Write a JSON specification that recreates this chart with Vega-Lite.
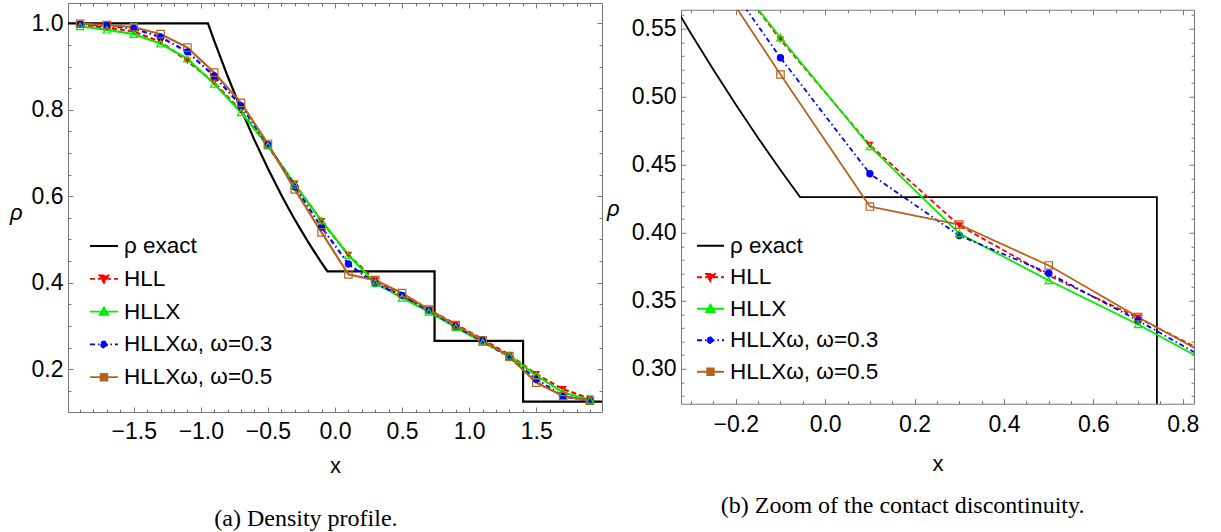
{
  "$schema": "https://vega.github.io/schema/vega-lite/v6.json",
  "background": "white",
  "padding": {"left": 9, "top": 2, "right": 5, "bottom": 0},
  "datasets": {
    "exact": [
      {"s": "ρ exact", "i": 0, "x": -2.0, "r": 1.0},
      {"s": "ρ exact", "i": 1, "x": -0.947, "r": 1.0},
      {"s": "ρ exact", "i": 2, "x": -0.9, "r": 0.9596},
      {"s": "ρ exact", "i": 3, "x": -0.8, "r": 0.8775},
      {"s": "ρ exact", "i": 4, "x": -0.7, "r": 0.801},
      {"s": "ρ exact", "i": 5, "x": -0.6, "r": 0.7299},
      {"s": "ρ exact", "i": 6, "x": -0.5, "r": 0.664},
      {"s": "ρ exact", "i": 7, "x": -0.4, "r": 0.603},
      {"s": "ρ exact", "i": 8, "x": -0.35, "r": 0.5741},
      {"s": "ρ exact", "i": 9, "x": -0.3, "r": 0.5464},
      {"s": "ρ exact", "i": 10, "x": -0.25, "r": 0.5199},
      {"s": "ρ exact", "i": 11, "x": -0.2, "r": 0.4943},
      {"s": "ρ exact", "i": 12, "x": -0.15, "r": 0.4697},
      {"s": "ρ exact", "i": 13, "x": -0.1, "r": 0.4461},
      {"s": "ρ exact", "i": 14, "x": -0.0562, "r": 0.4263},
      {"s": "ρ exact", "i": 15, "x": 0.742, "r": 0.4263},
      {"s": "ρ exact", "i": 16, "x": 0.742, "r": 0.2656},
      {"s": "ρ exact", "i": 17, "x": 1.4018, "r": 0.2656},
      {"s": "ρ exact", "i": 18, "x": 1.4018, "r": 0.125},
      {"s": "ρ exact", "i": 19, "x": 2.0, "r": 0.125}
    ],
    "num": [
      {"s": "HLL", "x": -1.9, "r": 0.995}, {"s": "HLL", "x": -1.7, "r": 0.99}, {"s": "HLL", "x": -1.5, "r": 0.981}, {"s": "HLL", "x": -1.3, "r": 0.957}, {"s": "HLL", "x": -1.1, "r": 0.913},
      {"s": "HLL", "x": -0.9, "r": 0.863}, {"s": "HLL", "x": -0.7, "r": 0.797}, {"s": "HLL", "x": -0.5, "r": 0.715}, {"s": "HLL", "x": -0.3, "r": 0.629}, {"s": "HLL", "x": -0.1, "r": 0.542},
      {"s": "HLL", "x": 0.1, "r": 0.4645}, {"s": "HLL", "x": 0.3, "r": 0.4054}, {"s": "HLL", "x": 0.5, "r": 0.3686}, {"s": "HLL", "x": 0.7, "r": 0.3375}, {"s": "HLL", "x": 0.9, "r": 0.304},
      {"s": "HLL", "x": 1.1, "r": 0.269}, {"s": "HLL", "x": 1.3, "r": 0.233}, {"s": "HLL", "x": 1.5, "r": 0.1884}, {"s": "HLL", "x": 1.7, "r": 0.1538}, {"s": "HLL", "x": 1.9, "r": 0.132},
      {"s": "HLLX", "x": -1.9, "r": 0.993}, {"s": "HLLX", "x": -1.7, "r": 0.985}, {"s": "HLLX", "x": -1.5, "r": 0.975}, {"s": "HLLX", "x": -1.3, "r": 0.953}, {"s": "HLLX", "x": -1.1, "r": 0.918},
      {"s": "HLLX", "x": -0.9, "r": 0.86}, {"s": "HLLX", "x": -0.7, "r": 0.794}, {"s": "HLLX", "x": -0.5, "r": 0.717}, {"s": "HLLX", "x": -0.3, "r": 0.627}, {"s": "HLLX", "x": -0.1, "r": 0.5435},
      {"s": "HLLX", "x": 0.1, "r": 0.4635}, {"s": "HLLX", "x": 0.3, "r": 0.3995}, {"s": "HLLX", "x": 0.5, "r": 0.365}, {"s": "HLLX", "x": 0.7, "r": 0.3326}, {"s": "HLLX", "x": 0.9, "r": 0.297},
      {"s": "HLLX", "x": 1.1, "r": 0.2625}, {"s": "HLLX", "x": 1.3, "r": 0.231}, {"s": "HLLX", "x": 1.5, "r": 0.1855}, {"s": "HLLX", "x": 1.7, "r": 0.146}, {"s": "HLLX", "x": 1.9, "r": 0.129},
      {"s": "HLLXω, ω=0.3", "x": -1.9, "r": 0.998}, {"s": "HLLXω, ω=0.3", "x": -1.7, "r": 0.994}, {"s": "HLLXω, ω=0.3", "x": -1.5, "r": 0.988}, {"s": "HLLXω, ω=0.3", "x": -1.3, "r": 0.968}, {"s": "HLLXω, ω=0.3", "x": -1.1, "r": 0.934},
      {"s": "HLLXω, ω=0.3", "x": -0.9, "r": 0.878}, {"s": "HLLXω, ω=0.3", "x": -0.7, "r": 0.809}, {"s": "HLLXω, ω=0.3", "x": -0.5, "r": 0.719}, {"s": "HLLXω, ω=0.3", "x": -0.3, "r": 0.622}, {"s": "HLLXω, ω=0.3", "x": -0.1, "r": 0.5287},
      {"s": "HLLXω, ω=0.3", "x": 0.1, "r": 0.4434}, {"s": "HLLXω, ω=0.3", "x": 0.3, "r": 0.398}, {"s": "HLLXω, ω=0.3", "x": 0.5, "r": 0.3703}, {"s": "HLLXω, ω=0.3", "x": 0.7, "r": 0.3355}, {"s": "HLLXω, ω=0.3", "x": 0.9, "r": 0.2985},
      {"s": "HLLXω, ω=0.3", "x": 1.1, "r": 0.2654}, {"s": "HLLXω, ω=0.3", "x": 1.3, "r": 0.227}, {"s": "HLLXω, ω=0.3", "x": 1.5, "r": 0.177}, {"s": "HLLXω, ω=0.3", "x": 1.7, "r": 0.137}, {"s": "HLLXω, ω=0.3", "x": 1.9, "r": 0.127},
      {"s": "HLLXω, ω=0.5", "x": -1.9, "r": 0.999}, {"s": "HLLXω, ω=0.5", "x": -1.7, "r": 0.996}, {"s": "HLLXω, ω=0.5", "x": -1.5, "r": 0.991}, {"s": "HLLXω, ω=0.5", "x": -1.3, "r": 0.975}, {"s": "HLLXω, ω=0.5", "x": -1.1, "r": 0.944},
      {"s": "HLLXω, ω=0.5", "x": -0.9, "r": 0.886}, {"s": "HLLXω, ω=0.5", "x": -0.7, "r": 0.816}, {"s": "HLLXω, ω=0.5", "x": -0.5, "r": 0.721}, {"s": "HLLXω, ω=0.5", "x": -0.3, "r": 0.616}, {"s": "HLLXω, ω=0.5", "x": -0.1, "r": 0.5164},
      {"s": "HLLXω, ω=0.5", "x": 0.1, "r": 0.4193}, {"s": "HLLXω, ω=0.5", "x": 0.3, "r": 0.406}, {"s": "HLLXω, ω=0.5", "x": 0.5, "r": 0.376}, {"s": "HLLXω, ω=0.5", "x": 0.7, "r": 0.338}, {"s": "HLLXω, ω=0.5", "x": 0.9, "r": 0.302},
      {"s": "HLLXω, ω=0.5", "x": 1.1, "r": 0.267}, {"s": "HLLXω, ω=0.5", "x": 1.3, "r": 0.229}, {"s": "HLLXω, ω=0.5", "x": 1.5, "r": 0.169}, {"s": "HLLXω, ω=0.5", "x": 1.7, "r": 0.138}, {"s": "HLLXω, ω=0.5", "x": 1.9, "r": 0.127}
    ]
  },
  "spacing": 3,
  "center": true,
  "hconcat": [
    {
      "width": 534,
      "height": 409,
      "title": {"text": "(a) Density profile.", "orient": "bottom", "anchor": "middle", "frame": "bounds", "font": "Liberation Serif", "fontSize": 24, "fontWeight": "normal", "color": "black", "offset": 31},
      "layer": [
        {
          "data": {"name": "exact"},
          "mark": {"type": "line", "clip": true, "strokeWidth": 2.2},
          "encoding": {
            "x": {"field": "x", "type": "quantitative", "scale": {"domain": [-1.99, 1.99], "nice": false, "zero": false},
                  "axis": {"orient": "bottom", "values": [-1.5, -1, -0.5, 0, 0.5, 1, 1.5], "format": ".1f", "tickSize": -5, "labelPadding": 13, "title": "x", "titlePadding": 12}},
            "y": {"field": "r", "type": "quantitative", "scale": {"domain": [0.101, 1.047], "nice": false, "zero": false},
                  "axis": {"orient": "left", "values": [0.2, 0.4, 0.6, 0.8, 1.0], "format": ".1f", "tickSize": -5, "labelPadding": 10, "title": "ρ", "titleAngle": 0, "titleFontStyle": "italic", "titleAlign": "right", "titleBaseline": "middle", "titleX": -46, "titleY": 209}},
            "color": {"field": "s", "type": "nominal",
                      "scale": {"domain": ["ρ exact", "HLL", "HLLX", "HLLXω, ω=0.3", "HLLXω, ω=0.5"], "range": ["#000000", "#ff0000", "#00ee00", "#0000ff", "#b5641e"]},
                      "legend": {
                        "orient": "none", "legendX": 21, "legendY": 228, "title": null, "padding": 0,
                        "symbolSize": 784, "symbolStrokeWidth": 1.8, "labelFont": "Liberation Sans", "labelFontSize": 22.5, "labelColor": "black",
                        "labelOffset": 5, "rowPadding": 5.8, "labelLimit": 0,
                        "encode": {"symbols": {"update": {
                          "shape": {"signal": "datum.value === 'HLL' ? 'M-1,0L1,0M-0.32,-0.24L0.32,-0.24L0,0.3Z' : datum.value === 'HLLX' ? 'M-1,0L1,0M-0.32,0.24L0.32,0.24L0,-0.3Z' : datum.value === 'HLLXω, ω=0.3' ? 'M-1,0L1,0M-0.22,0A0.22,0.22,0,1,0,0.22,0A0.22,0.22,0,1,0,-0.22,0Z' : datum.value === 'HLLXω, ω=0.5' ? 'M-1,0L1,0M-0.24,-0.24L0.24,-0.24L0.24,0.24L-0.24,0.24Z' : 'M-1,0L1,0'"},
                          "fill": {"signal": "datum.value === 'HLL' ? '#ff0000' : datum.value === 'HLLXω, ω=0.3' ? '#0000ff' : datum.value === 'ρ exact' ? 'transparent' : 'white'"},
                          "strokeDash": {"signal": "datum.value === 'HLL' ? [5,3] : datum.value === 'HLLXω, ω=0.3' ? [5,3,1.5,3] : [1,0]"},
                          "opacity": {"value": 1}
                        }}}
                      }},
            "order": {"field": "i", "type": "quantitative"}
          }
        },
        {
          "data": {"name": "num"},
          "mark": {"type": "line", "clip": true, "strokeWidth": 2.2},
          "encoding": {
            "x": {"field": "x", "type": "quantitative", "scale": {"domain": [-1.99, 1.99], "nice": false, "zero": false},
                  "axis": {"orient": "top", "values": [-1.5, -1, -0.5, 0, 0.5, 1, 1.5], "labels": false, "tickSize": -5, "title": null}},
            "y": {"field": "r", "type": "quantitative", "scale": {"domain": [0.101, 1.047], "nice": false, "zero": false},
                  "axis": {"orient": "right", "values": [0.2, 0.4, 0.6, 0.8, 1.0], "labels": false, "tickSize": -5, "title": null}},
            "color": {"field": "s", "type": "nominal",
                      "scale": {"domain": ["ρ exact", "HLL", "HLLX", "HLLXω, ω=0.3", "HLLXω, ω=0.5"], "range": ["#000000", "#ff0000", "#00ee00", "#0000ff", "#b5641e"]}, "legend": null},
            "strokeDash": {"field": "s", "type": "nominal",
                      "scale": {"domain": ["HLL", "HLLX", "HLLXω, ω=0.3", "HLLXω, ω=0.5"], "range": [[5, 3], [1, 0], [5, 3, 1.5, 3], [1, 0]]}, "legend": null}
          }
        },
        {
          "data": {"name": "num"},
          "transform": [{"filter": "datum.s === 'HLL' || datum.s === 'HLLXω, ω=0.3'"}],
          "mark": {"type": "point", "filled": true, "size": 55, "opacity": 1, "clip": true},
          "encoding": {
            "x": {"field": "x", "type": "quantitative", "scale": {"domain": [-1.99, 1.99], "nice": false, "zero": false},
                  "axis": {"orient": "bottom", "values": [-1.9, -1.8, -1.7, -1.6, -1.4, -1.3, -1.2, -1.1, -0.9, -0.8, -0.7, -0.6, -0.4, -0.3, -0.2, -0.1, 0.1, 0.2, 0.3, 0.4, 0.6, 0.7, 0.8, 0.9, 1.1, 1.2, 1.3, 1.4, 1.6, 1.7, 1.8, 1.9], "labels": false, "domain": false, "tickSize": -3, "title": null}},
            "y": {"field": "r", "type": "quantitative", "scale": {"domain": [0.101, 1.047], "nice": false, "zero": false},
                  "axis": {"orient": "left", "values": [0.15, 0.25, 0.3, 0.35, 0.45, 0.5, 0.55, 0.65, 0.7, 0.75, 0.85, 0.9, 0.95], "labels": false, "domain": false, "tickSize": -3, "title": null}},
            "color": {"field": "s", "type": "nominal",
                      "scale": {"domain": ["ρ exact", "HLL", "HLLX", "HLLXω, ω=0.3", "HLLXω, ω=0.5"], "range": ["#000000", "#ff0000", "#00ee00", "#0000ff", "#b5641e"]}, "legend": null},
            "shape": {"field": "s", "type": "nominal",
                      "scale": {"domain": ["HLL", "HLLX", "HLLXω, ω=0.3", "HLLXω, ω=0.5"], "range": ["triangle-down", "triangle-up", "circle", "square"]}, "legend": null}
          }
        },
        {
          "data": {"name": "num"},
          "transform": [{"filter": "datum.s === 'HLLX' || datum.s === 'HLLXω, ω=0.5'"}],
          "mark": {"type": "point", "filled": false, "size": 55, "strokeWidth": 1.2, "opacity": 1, "clip": true},
          "encoding": {
            "x": {"field": "x", "type": "quantitative", "scale": {"domain": [-1.99, 1.99], "nice": false, "zero": false},
                  "axis": {"orient": "top", "values": [-1.9, -1.8, -1.7, -1.6, -1.4, -1.3, -1.2, -1.1, -0.9, -0.8, -0.7, -0.6, -0.4, -0.3, -0.2, -0.1, 0.1, 0.2, 0.3, 0.4, 0.6, 0.7, 0.8, 0.9, 1.1, 1.2, 1.3, 1.4, 1.6, 1.7, 1.8, 1.9], "labels": false, "domain": false, "tickSize": -3, "title": null}},
            "y": {"field": "r", "type": "quantitative", "scale": {"domain": [0.101, 1.047], "nice": false, "zero": false},
                  "axis": {"orient": "right", "values": [0.15, 0.25, 0.3, 0.35, 0.45, 0.5, 0.55, 0.65, 0.7, 0.75, 0.85, 0.9, 0.95], "labels": false, "domain": false, "tickSize": -3, "title": null}},
            "color": {"field": "s", "type": "nominal",
                      "scale": {"domain": ["ρ exact", "HLL", "HLLX", "HLLXω, ω=0.3", "HLLXω, ω=0.5"], "range": ["#000000", "#ff0000", "#00ee00", "#0000ff", "#b5641e"]}, "legend": null},
            "shape": {"field": "s", "type": "nominal",
                      "scale": {"domain": ["HLL", "HLLX", "HLLXω, ω=0.3", "HLLXω, ω=0.5"], "range": ["triangle-down", "triangle-up", "circle", "square"]}, "legend": null}
          }
        }
      ],
      "resolve": {"axis": {"x": "independent", "y": "independent"}}
    },
    {
      "width": 513,
      "height": 394,
      "title": {"text": "(b) Zoom of the contact discontinuity.", "subtitle": " ", "subtitleFontSize": 4, "subtitlePadding": 2, "orient": "bottom", "anchor": "middle", "frame": "bounds", "font": "Liberation Serif", "fontSize": 24, "fontWeight": "normal", "color": "black", "offset": 19.5},
      "layer": [
        {
          "data": {"name": "exact"},
          "mark": {"type": "line", "clip": true, "strokeWidth": 1.8},
          "encoding": {
            "x": {"field": "x", "type": "quantitative", "scale": {"domain": [-0.3225, 0.825], "nice": false, "zero": false},
                  "axis": {"orient": "bottom", "values": [-0.2, 0, 0.2, 0.4, 0.6, 0.8], "format": ".1f", "tickSize": -5, "labelPadding": 15, "title": "x", "titlePadding": 17}},
            "y": {"field": "r", "type": "quantitative", "scale": {"domain": [0.2743, 0.564], "nice": false, "zero": false},
                  "axis": {"orient": "left", "values": [0.3, 0.35, 0.4, 0.45, 0.5, 0.55], "format": ".2f", "tickSize": -5, "labelPadding": 10, "title": "ρ", "titleAngle": 0, "titleFontStyle": "italic", "titleAlign": "right", "titleBaseline": "middle", "titleX": -62, "titleY": 199}},
            "color": {"field": "s", "type": "nominal",
                      "scale": {"domain": ["ρ exact", "HLL", "HLLX", "HLLXω, ω=0.3", "HLLXω, ω=0.5"], "range": ["#000000", "#ff0000", "#00ee00", "#0000ff", "#b5641e"]},
                      "legend": {
                        "orient": "none", "legendX": 15, "legendY": 221.5, "title": null, "padding": 0,
                        "symbolSize": 729, "symbolStrokeWidth": 1.8, "labelFont": "Liberation Sans", "labelFontSize": 22.5, "labelColor": "black",
                        "labelOffset": 5, "rowPadding": 5.5, "labelLimit": 0,
                        "encode": {"symbols": {"update": {
                          "shape": {"signal": "datum.value === 'HLL' ? 'M-1,0L1,0M-0.32,-0.24L0.32,-0.24L0,0.3Z' : datum.value === 'HLLX' ? 'M-1,0L1,0M-0.32,0.24L0.32,0.24L0,-0.3Z' : datum.value === 'HLLXω, ω=0.3' ? 'M-1,0L1,0M-0.22,0A0.22,0.22,0,1,0,0.22,0A0.22,0.22,0,1,0,-0.22,0Z' : datum.value === 'HLLXω, ω=0.5' ? 'M-1,0L1,0M-0.24,-0.24L0.24,-0.24L0.24,0.24L-0.24,0.24Z' : 'M-1,0L1,0'"},
                          "fill": {"signal": "datum.value === 'HLL' ? '#ff0000' : datum.value === 'HLLXω, ω=0.3' ? '#0000ff' : datum.value === 'ρ exact' ? 'transparent' : 'white'"},
                          "strokeDash": {"signal": "datum.value === 'HLL' ? [5,3] : datum.value === 'HLLXω, ω=0.3' ? [5,3,1.5,3] : [1,0]"},
                          "opacity": {"value": 1}
                        }}}
                      }},
            "order": {"field": "i", "type": "quantitative"}
          }
        },
        {
          "data": {"name": "num"},
          "mark": {"type": "line", "clip": true, "strokeWidth": 1.8},
          "encoding": {
            "x": {"field": "x", "type": "quantitative", "scale": {"domain": [-0.3225, 0.825], "nice": false, "zero": false},
                  "axis": {"orient": "top", "values": [-0.2, 0, 0.2, 0.4, 0.6, 0.8], "labels": false, "tickSize": -5, "title": null}},
            "y": {"field": "r", "type": "quantitative", "scale": {"domain": [0.2743, 0.564], "nice": false, "zero": false},
                  "axis": {"orient": "right", "values": [0.3, 0.35, 0.4, 0.45, 0.5, 0.55], "labels": false, "tickSize": -5, "title": null}},
            "color": {"field": "s", "type": "nominal",
                      "scale": {"domain": ["ρ exact", "HLL", "HLLX", "HLLXω, ω=0.3", "HLLXω, ω=0.5"], "range": ["#000000", "#ff0000", "#00ee00", "#0000ff", "#b5641e"]}, "legend": null},
            "strokeDash": {"field": "s", "type": "nominal",
                      "scale": {"domain": ["HLL", "HLLX", "HLLXω, ω=0.3", "HLLXω, ω=0.5"], "range": [[5, 3], [1, 0], [5, 3, 1.5, 3], [1, 0]]}, "legend": null}
          }
        },
        {
          "data": {"name": "num"},
          "transform": [{"filter": "datum.s === 'HLL' || datum.s === 'HLLXω, ω=0.3'"}],
          "mark": {"type": "point", "filled": true, "size": 55, "opacity": 1, "clip": true},
          "encoding": {
            "x": {"field": "x", "type": "quantitative", "scale": {"domain": [-0.3225, 0.825], "nice": false, "zero": false},
                  "axis": {"orient": "bottom", "values": [-0.3, -0.25, -0.15, -0.1, -0.05, 0.05, 0.1, 0.15, 0.25, 0.3, 0.35, 0.45, 0.5, 0.55, 0.65, 0.7, 0.75], "labels": false, "domain": false, "tickSize": -3, "title": null}},
            "y": {"field": "r", "type": "quantitative", "scale": {"domain": [0.2743, 0.564], "nice": false, "zero": false},
                  "axis": {"orient": "left", "values": [0.28, 0.29, 0.31, 0.32, 0.33, 0.34, 0.36, 0.37, 0.38, 0.39, 0.41, 0.42, 0.43, 0.44, 0.46, 0.47, 0.48, 0.49, 0.51, 0.52, 0.53, 0.54, 0.56], "labels": false, "domain": false, "tickSize": -3, "title": null}},
            "color": {"field": "s", "type": "nominal",
                      "scale": {"domain": ["ρ exact", "HLL", "HLLX", "HLLXω, ω=0.3", "HLLXω, ω=0.5"], "range": ["#000000", "#ff0000", "#00ee00", "#0000ff", "#b5641e"]}, "legend": null},
            "shape": {"field": "s", "type": "nominal",
                      "scale": {"domain": ["HLL", "HLLX", "HLLXω, ω=0.3", "HLLXω, ω=0.5"], "range": ["triangle-down", "triangle-up", "circle", "square"]}, "legend": null}
          }
        },
        {
          "data": {"name": "num"},
          "transform": [{"filter": "datum.s === 'HLLX' || datum.s === 'HLLXω, ω=0.5'"}],
          "mark": {"type": "point", "filled": false, "size": 55, "strokeWidth": 1.2, "opacity": 1, "clip": true},
          "encoding": {
            "x": {"field": "x", "type": "quantitative", "scale": {"domain": [-0.3225, 0.825], "nice": false, "zero": false},
                  "axis": {"orient": "top", "values": [-0.3, -0.25, -0.15, -0.1, -0.05, 0.05, 0.1, 0.15, 0.25, 0.3, 0.35, 0.45, 0.5, 0.55, 0.65, 0.7, 0.75], "labels": false, "domain": false, "tickSize": -3, "title": null}},
            "y": {"field": "r", "type": "quantitative", "scale": {"domain": [0.2743, 0.564], "nice": false, "zero": false},
                  "axis": {"orient": "right", "values": [0.28, 0.29, 0.31, 0.32, 0.33, 0.34, 0.36, 0.37, 0.38, 0.39, 0.41, 0.42, 0.43, 0.44, 0.46, 0.47, 0.48, 0.49, 0.51, 0.52, 0.53, 0.54, 0.56], "labels": false, "domain": false, "tickSize": -3, "title": null}},
            "color": {"field": "s", "type": "nominal",
                      "scale": {"domain": ["ρ exact", "HLL", "HLLX", "HLLXω, ω=0.3", "HLLXω, ω=0.5"], "range": ["#000000", "#ff0000", "#00ee00", "#0000ff", "#b5641e"]}, "legend": null},
            "shape": {"field": "s", "type": "nominal",
                      "scale": {"domain": ["HLL", "HLLX", "HLLXω, ω=0.3", "HLLXω, ω=0.5"], "range": ["triangle-down", "triangle-up", "circle", "square"]}, "legend": null}
          }
        }
      ],
      "resolve": {"axis": {"x": "independent", "y": "independent"}}
    }
  ],
  "resolve": {
    "scale": {"x": "independent", "y": "independent", "color": "independent", "strokeDash": "independent", "shape": "independent"},
    "legend": {"color": "independent"}
  },
  "config": {
    "view": {"stroke": null},
    "axis": {
      "grid": false, "domainColor": "#777", "tickColor": "#777", "domainWidth": 1, "tickWidth": 1,
      "labelFont": "Liberation Sans", "labelFontSize": 23, "labelColor": "black", "labelFlush": false, "labelOverlap": false,
      "titleFont": "Liberation Sans", "titleFontSize": 22, "titleFontWeight": "normal", "titleColor": "black"
    }
  }
}
